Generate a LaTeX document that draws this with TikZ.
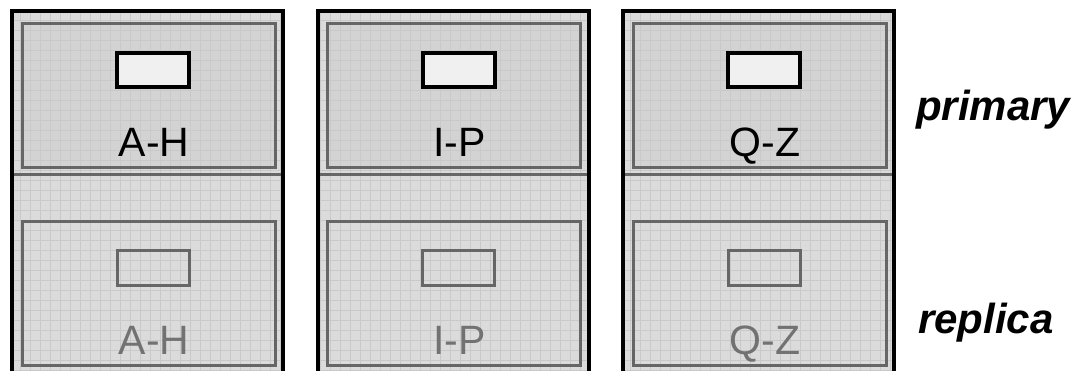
\documentclass[tikz,border=0pt]{standalone}
\usepackage{fontspec}
\setmainfont{Liberation Sans}
\usetikzlibrary{positioning}
\definecolor{ink}{HTML}{000000}
\definecolor{steel}{HTML}{666666}
\definecolor{cabfill}{HTML}{DBDBDB}
\definecolor{drawfill}{HTML}{D3D3D3}
\definecolor{gridtone}{HTML}{C9C9C9}
\definecolor{knob}{HTML}{F0F0F0}
\definecolor{faded}{HTML}{727272}

\begin{document}
\begin{tikzpicture}[
  x=1pt, y=-1pt,
  cab/.style={draw=ink, line width=4pt},
  drawerbox/.style={draw=steel, line width=3pt},
  gridline/.style={draw=gridtone, line width=0.6pt},
  handle/.style={draw=ink, line width=4pt, fill=knob},
  ghost/.style={draw=steel, line width=3pt},
  tag/.style={font=\fontsize{41}{41}\selectfont, text=ink, anchor=base, inner sep=0pt},
  side/.style={font=\fontsize{42}{42}\selectfont\bfseries\itshape, text=ink, anchor=base west, inner sep=0pt}
]
  \useasboundingbox (0,0) rectangle (1077,371);

  \foreach \txt [count=\i from 0] in {A-H,I-P,Q-Z} {
    \pgfmathsetmacro\xa{12+305.5*\i}
    % body with grid
    \begin{scope}
      \clip (\xa,11) rectangle (\xa+271,371);
      \fill[cabfill] (\xa,11) rectangle (\xa+271,371);
      \fill[drawfill] (\xa+10,24) rectangle (\xa+263,168);
      \draw[gridline, step=10pt] (\xa,11) grid (\xa+271,371);
    \end{scope}
    % primary drawer
    \draw[drawerbox] (\xa+10,24) rectangle (\xa+263,168);
    \draw[handle] (\xa+105,53) rectangle (\xa+177,87);
    \node[tag] (p\i) at (\xa+142,157) {\txt};
    \draw[drawerbox] (\xa,175) -- (\xa+271,175);
    % replica drawer
    \draw[drawerbox] (\xa+10,222) rectangle (\xa+263,366);
    \draw[ghost] (\xa+105,251) rectangle (\xa+177,286);
    \node[tag, text=faded] (r\i) at (\xa+142,355) {\txt};
    % frame, open at the bottom
    \draw[cab] (\xa,373) -- (\xa,11) -- (\xa+271,11) -- (\xa+271,373);
  }

  \node[side] (prim) at (916,121) {primary};
  \node[side] (repl) at (918,334) {replica};
\end{tikzpicture}
\end{document}
